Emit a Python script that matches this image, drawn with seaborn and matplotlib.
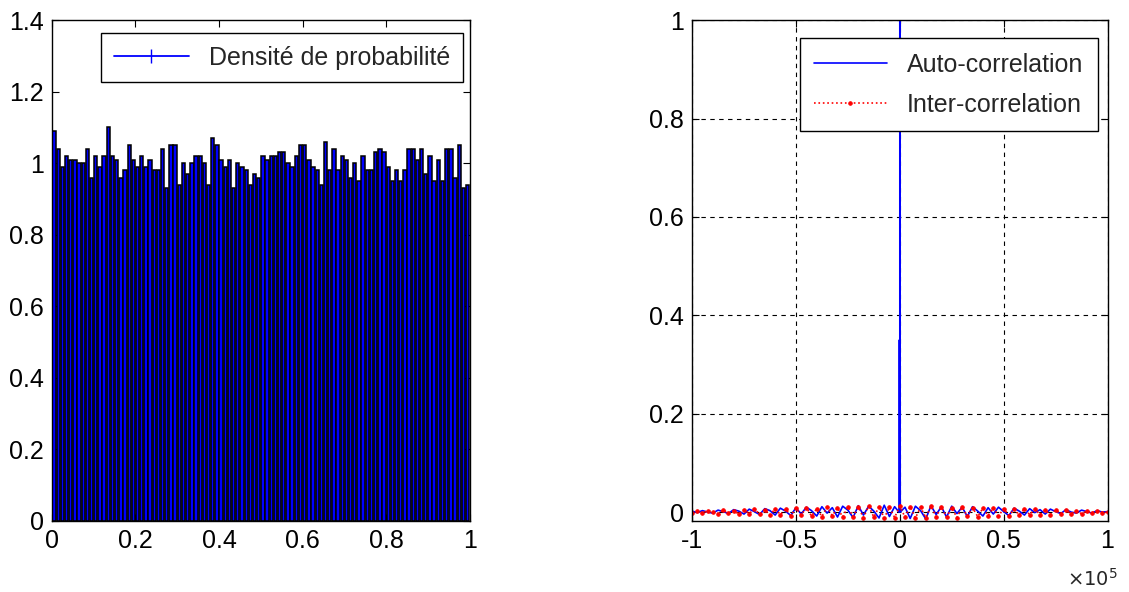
import numpy as np
import pandas as pd
import matplotlib
matplotlib.use('Agg')
import matplotlib.pyplot as plt
from matplotlib.lines import Line2D
from matplotlib.ticker import FuncFormatter
import seaborn as sns

# ---------------------------
# données
# ---------------------------
# hauteurs des 100 barres de l'histogramme normalisé (0 -> 1)
densite = [1.09, 1.04, 0.99, 1.02, 1.01, 1.01, 1.00, 1.00, 1.04, 0.96,
           1.02, 0.99, 1.02, 1.10, 1.02, 1.01, 0.96, 0.98, 1.05, 1.01,
           0.99, 1.02, 0.99, 1.01, 0.98, 0.98, 1.04, 0.93, 1.05, 1.05,
           0.94, 1.00, 0.97, 1.00, 1.02, 1.02, 1.00, 0.94, 1.07, 1.05,
           1.01, 0.99, 1.01, 0.93, 1.00, 0.99, 0.98, 0.94, 0.97, 0.96,
           1.02, 1.01, 1.02, 1.02, 1.03, 1.03, 1.00, 0.99, 1.02, 1.05,
           1.05, 1.01, 0.99, 0.98, 0.94, 1.06, 0.98, 1.04, 0.98, 1.02,
           1.01, 0.96, 1.00, 0.95, 1.02, 0.98, 0.98, 1.03, 1.04, 1.03,
           0.99, 0.95, 0.98, 0.95, 0.98, 1.04, 1.04, 1.01, 1.04, 0.97,
           1.02, 0.95, 1.01, 0.95, 1.04, 1.04, 0.96, 1.05, 0.93, 0.94]
centres = [(i + 0.5) / 100 for i in range(100)]

# autocorrélation / intercorrélation (décalages -1e5 .. 1e5, pas 2500)
auto_vals = [0.002, -0.001, 0.003, 0.000, -0.002, 0.004, 0.001, -0.003, 0.005, 0.002,
             -0.004, 0.006, 0.001, -0.005, 0.007, 0.003, -0.006, 0.008, 0.002, -0.007,
             0.009, -0.004, 0.010, 0.003, -0.008, 0.011, -0.002, 0.009, -0.010, 0.012,
             0.004, -0.011, 0.013, -0.006, 0.012, 0.002, -0.012, 0.014, -0.009, 0.011,
             0.006,
             0.010, -0.013, 0.012, 0.003, -0.014, 0.013, -0.005, 0.011, -0.010, 0.012,
             -0.003, 0.010, -0.009, 0.011, 0.002, -0.008, 0.009, -0.004, 0.010, 0.001,
             -0.007, 0.008, 0.002, -0.006, 0.007, -0.001, 0.005, -0.004, 0.006, 0.001,
             -0.003, 0.005, 0.000, -0.002, 0.004, 0.001, -0.002, 0.003, 0.000, 0.001]
inter_vals = [-0.001, 0.002, -0.002, 0.003, 0.000, -0.003, 0.004, -0.002, 0.003, -0.004,
              0.005, -0.003, 0.006, -0.004, 0.005, -0.006, 0.007, -0.005, 0.006, -0.007,
              0.008, -0.006, 0.009, -0.008, 0.007, -0.009, 0.010, -0.007, 0.009, -0.010,
              0.011, -0.009, 0.010, -0.011, 0.012, -0.010, 0.011, -0.012, 0.010, -0.011,
              0.012,
              -0.010, 0.011, -0.012, 0.010, -0.011, 0.012, -0.009, 0.010, -0.010, 0.009,
              -0.011, 0.010, -0.008, 0.009, -0.009, 0.008, -0.007, 0.009, -0.008, 0.007,
              -0.007, 0.006, -0.006, 0.007, -0.005, 0.006, -0.005, 0.004, -0.005, 0.004,
              -0.003, 0.004, -0.003, 0.002, -0.003, 0.002, -0.001, 0.002, -0.001, 0.000]
# pic central de l'autocorrélation
pic_lags = [-400, -200, 1, 200]
pic_vals = [0.0, 0.35, 1.0, 0.0]

lags = np.linspace(-1e5, 1e5, len(auto_vals))
auto_df = pd.DataFrame({'lag': np.concatenate([lags, pic_lags]),
                        'val': np.concatenate([auto_vals, pic_vals])}).sort_values('lag')
inter_df = pd.DataFrame({'lag': lags, 'val': inter_vals})

# ---------------------------
# style
# ---------------------------
sns.set_style('ticks')
plt.rcParams['font.family'] = ['Liberation Sans', 'DejaVu Sans']
plt.rcParams['axes.unicode_minus'] = False
plt.rcParams['xtick.direction'] = 'in'
plt.rcParams['ytick.direction'] = 'in'
plt.rcParams['xtick.top'] = True
plt.rcParams['ytick.right'] = True

fig = plt.figure(figsize=(11.29, 5.92), dpi=100)
ax1 = fig.add_axes([0.046, 0.12, 0.370, 0.846])
ax2 = fig.add_axes([0.613, 0.12, 0.368, 0.846])

fmt = FuncFormatter(lambda v, p: '%g' % round(v, 3))

# ---------------------------
# gauche : densité de probabilité
# ---------------------------
sns.histplot(x=centres, weights=densite, bins=100, binrange=(0, 1),
             color='#0000ff', edgecolor='black', linewidth=1.1, alpha=1,
             shrink=0.8, ax=ax1)
ax1.set_xlim(0, 1)
ax1.set_ylim(0, 1.4)
ax1.set_xticks(np.arange(0, 1.01, 0.2))
ax1.set_yticks(np.arange(0, 1.41, 0.2))
ax1.xaxis.set_major_formatter(fmt)
ax1.yaxis.set_major_formatter(fmt)
ax1.set_xlabel('')
ax1.set_ylabel('')
h1 = Line2D([], [], color='#0000ff', marker='|', markersize=10, lw=1.3)
ax1.legend([h1], ['Densité de probabilité'], loc='upper right', fontsize=18,
           frameon=True, fancybox=False, edgecolor='black', framealpha=1,
           handlelength=3.0, borderpad=0.5, bbox_to_anchor=(0.983, 0.974),
           borderaxespad=0)

# ---------------------------
# droite : corrélations
# ---------------------------
sns.lineplot(data=auto_df, x='lag', y='val', color='#0000ff', lw=1.2,
             sort=False, estimator=None, ax=ax2, label='Auto-correlation')
sns.lineplot(data=inter_df, x='lag', y='val', color='red', lw=1.2,
             linestyle=':', marker='.', markersize=5, markeredgecolor='red',
             estimator=None, ax=ax2, label='Inter-correlation')
ax2.set_xlim(-1e5, 1e5)
ax2.set_ylim(-0.018, 1)
ax2.set_xticks(np.arange(-1e5, 1.01e5, 0.5e5))
ax2.set_yticks(np.arange(0, 1.01, 0.2))
ax2.xaxis.set_major_formatter(FuncFormatter(lambda v, p: '%g' % round(v / 1e5, 3)))
ax2.yaxis.set_major_formatter(fmt)
ax2.grid(True, color='black', linestyle=(0, (4, 4)), lw=0.8)
ax2.set_xlabel('')
ax2.set_ylabel('')
ax2.legend(loc='upper right', fontsize=18, frameon=True, fancybox=False,
           edgecolor='black', framealpha=1, handlelength=2.9, borderpad=0.58,
           labelspacing=0.65, bbox_to_anchor=(0.976, 0.964), borderaxespad=0)
fig.text(0.99, 0.004, r'$\times10^{5}$', fontsize=14, ha='right', va='bottom')

for ax in (ax1, ax2):
    ax.tick_params(labelsize=18, length=5, width=0.8, colors='black', pad=6)
    for s in ax.spines.values():
        s.set_color('black')
        s.set_linewidth(1)

fig.savefig('out.png', dpi=100)
